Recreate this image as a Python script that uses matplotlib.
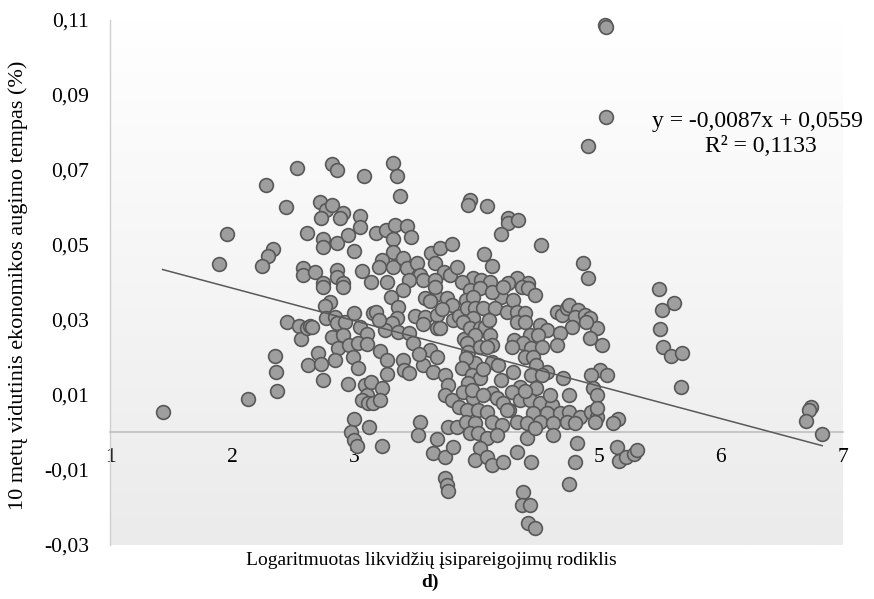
import numpy as np
import matplotlib
matplotlib.use("Agg")
import matplotlib.pyplot as plt
from matplotlib.colors import LinearSegmentedColormap

plt.rcParams["font.family"] = ["Liberation Serif", "DejaVu Serif"]

# sparse points on the left side
x_left = [1.43, 1.89, 1.96, 2.13, 2.28, 2.44, 2.53, 2.33, 2.29, 2.24, 2.35, 2.36,
          2.37, 2.45, 2.55, 2.56]
y_left = [0.0055, 0.045, 0.053, 0.009, 0.066, 0.060, 0.0705, 0.049, 0.047, 0.0445,
          0.0205, 0.016, 0.011, 0.0295, 0.0285, 0.025]

# upper part of the main cloud
x_upper = [2.82, 2.86, 3.08, 3.32, 3.35, 3.37, 2.72, 2.77, 2.82, 2.91, 2.88, 2.73,
           3.05, 3.05, 2.61, 2.74, 2.74, 2.86, 2.95, 3.00, 3.18, 3.26, 3.33, 3.43,
           3.46, 3.32, 3.32, 3.23, 3.20, 3.32, 3.40, 3.43, 3.51, 3.54, 3.63, 3.70,
           3.80, 3.66, 3.73, 3.78, 2.58, 2.58, 2.68, 2.86, 2.86, 3.06, 3.14, 3.27,
           3.45, 3.56, 3.66, 2.74, 2.91,
           4.91, 3.95, 3.93, 4.09, 4.26, 4.26, 4.34, 4.20, 4.53, 4.06, 4.13, 4.87,
           4.91, 3.97, 4.04, 4.11, 4.33, 4.42, 4.26, 3.84, 3.88, 3.30, 3.40, 4.20]
y_upper = [0.0716, 0.0700, 0.0684, 0.0719, 0.0684, 0.0631, 0.0615, 0.0593, 0.0607,
           0.0585, 0.0572, 0.0572, 0.0577, 0.0548, 0.0532, 0.0516, 0.0495, 0.0505,
           0.0527, 0.0484, 0.0532, 0.0540, 0.0553, 0.0551, 0.0521, 0.0516, 0.0481,
           0.0460, 0.0441, 0.0441, 0.0465, 0.0439, 0.0452, 0.0420, 0.0479, 0.0492,
           0.0503, 0.0452, 0.0428, 0.0420, 0.0439, 0.0420, 0.0428, 0.0433, 0.0415,
           0.0431, 0.0401, 0.0401, 0.0407, 0.0407, 0.0407, 0.0399, 0.0399,
           0.0764, 0.0620, 0.0607, 0.0604, 0.0572, 0.0559, 0.0567, 0.0529, 0.0500,
           0.0476, 0.0444, 0.0452, 0.0412, 0.0412, 0.0407, 0.0401, 0.0412, 0.0399,
           0.0399, 0.0440, 0.0400, 0.0360, 0.0380, 0.0360]

# middle band, x between 2.6 and 3.9
x_mid = [2.74, 2.91, 2.80, 2.76, 2.77, 2.84, 2.86, 2.92, 3.00, 3.05, 3.10, 3.15,
         3.18, 3.36, 3.35, 3.31, 3.25, 3.36, 3.45, 3.50, 3.58, 3.56, 3.68, 3.66,
         3.58, 3.66, 3.76, 3.80, 3.68, 3.70, 3.81, 2.61, 2.64, 2.65, 2.82, 2.91,
         2.87, 2.96, 3.03, 3.10, 2.70, 2.62, 2.73, 2.84, 2.99, 3.03, 2.74, 3.21,
         3.27, 3.27, 3.40, 3.41, 3.45, 3.48, 3.62, 3.68, 3.56, 3.64, 3.09, 3.14,
         3.23, 3.10, 3.06, 3.11, 3.15, 3.21, 3.74, 3.77, 3.74, 3.80, 3.86, 3.72,
         3.62, 3.20, 2.95, 3.53, 3.90]
y_mid = [0.0388, 0.0388, 0.0348, 0.0337, 0.0305, 0.0308, 0.0292, 0.0295, 0.0319,
         0.0281, 0.0263, 0.0319, 0.0321, 0.0335, 0.0305, 0.0292, 0.0273, 0.0268,
         0.0265, 0.0311, 0.0308, 0.0289, 0.0313, 0.0367, 0.0359, 0.0388, 0.0359,
         0.0340, 0.0279, 0.0279, 0.0300, 0.0279, 0.0284, 0.0281, 0.0255, 0.0260,
         0.0225, 0.0233, 0.0239, 0.0236, 0.0212, 0.0180, 0.0183, 0.0193, 0.0201,
         0.0172, 0.0140, 0.0217, 0.0193, 0.0156, 0.0193, 0.0167, 0.0159, 0.0239,
         0.0220, 0.0201, 0.0180, 0.0161, 0.0127, 0.0135, 0.0119, 0.0100, 0.0087,
         0.0079, 0.0079, 0.0087, 0.0153, 0.0127, 0.0100, 0.0087, 0.0310, 0.0330,
         0.0350, 0.0300, 0.0130, 0.0210, 0.0250]

# middle band, x between 3.85 and 5.1
x_east = [3.95, 4.03, 4.13, 4.22, 4.37, 4.42, 4.48, 3.91, 3.97, 3.92, 3.99, 4.05,
          4.15, 4.25, 4.30, 4.33, 4.40, 4.33, 4.40, 3.97, 3.89, 4.66, 4.70, 4.74,
          4.76, 4.83, 4.81, 4.89, 4.93, 4.99, 4.90, 4.78, 4.52, 4.58, 4.68, 3.95,
          4.03, 4.07, 3.99, 4.11, 4.13, 4.31, 4.44, 4.50, 4.38, 4.29, 4.45, 4.54,
          4.66, 3.92, 3.93, 4.03, 4.09, 4.93, 5.03, 4.40, 4.46, 4.13, 4.18, 3.99,
          3.91, 3.88, 4.49, 4.58, 4.45, 4.54, 4.71, 5.01, 4.94, 5.07, 3.96, 4.03,
          3.93, 4.95, 4.99, 4.76, 4.49, 4.36, 4.29, 3.89, 3.97, 3.96, 4.13, 4.17,
          4.22, 4.36, 4.44, 4.52, 4.62, 3.86, 3.92, 4.01, 4.09, 4.27, 4.46, 4.58,
          4.68, 4.76, 4.85, 4.94, 4.99, 4.99, 4.10, 4.05, 4.20, 4.30, 4.05, 4.40,
          4.60, 4.25]
y_east = [0.0380, 0.0385, 0.0375, 0.0388, 0.0388, 0.0385, 0.0367, 0.0353, 0.0361,
          0.0332, 0.0332, 0.0332, 0.0332, 0.0321, 0.0353, 0.0321, 0.0319, 0.0295,
          0.0295, 0.0305, 0.0295, 0.0321, 0.0313, 0.0332, 0.0340, 0.0327, 0.0308,
          0.0313, 0.0305, 0.0279, 0.0295, 0.0281, 0.0287, 0.0273, 0.0265, 0.0279,
          0.0279, 0.0281, 0.0260, 0.0260, 0.0233, 0.0247, 0.0260, 0.0260, 0.0239,
          0.0228, 0.0225, 0.0228, 0.0233, 0.0239, 0.0215, 0.0228, 0.0228, 0.0252,
          0.0233, 0.0201, 0.0201, 0.0188, 0.0180, 0.0185, 0.0199, 0.0172, 0.0180,
          0.0161, 0.0153, 0.0153, 0.0145, 0.0167, 0.0153, 0.0153, 0.0153, 0.0145,
          0.0132, 0.0119, 0.0100, 0.0100, 0.0119, 0.0121, 0.0108, 0.0108, 0.0092,
          0.0113, 0.0105, 0.0092, 0.0079, 0.0087, 0.0087, 0.0079, 0.0073, 0.0068,
          0.0060, 0.0060, 0.0055, 0.0060, 0.0052, 0.0052, 0.0052, 0.0055, 0.0041,
          0.0055, 0.0041, 0.0065, 0.0300, 0.0170, 0.0140, 0.0160, 0.0100, 0.0110,
          0.0100, 0.0060]

# points close to and below the zero line
x_low = [3.00, 2.97, 3.00, 3.02, 3.12, 3.23, 3.54, 3.52, 3.68, 3.64, 3.74, 3.77,
         3.84, 3.81, 3.74, 3.76, 3.77, 3.91, 3.99, 4.13, 4.21, 4.33, 4.41, 4.52,
         4.63, 4.74, 4.81, 5.16, 3.95, 4.01, 4.09, 4.17, 4.03, 3.99, 4.09, 4.13,
         4.22, 4.33, 4.41, 4.48, 4.63, 4.45, 4.82, 4.81, 4.76, 4.38, 4.37, 4.44,
         4.42, 4.48, 4.97, 5.12, 5.15, 5.17, 5.22, 5.29, 5.31]
y_low = [0.0036, 0.0002, -0.0020, -0.0036, 0.0015, -0.0036, 0.0028, -0.0007,
         -0.0017, -0.0055, -0.0065, 0.0015, 0.0015, -0.0039, -0.0121, -0.0140,
         -0.0156, 0.0028, 0.0025, 0.0028, 0.0020, 0.0028, 0.0025, 0.0028, 0.0025,
         0.0028, 0.0025, 0.0035, -0.0001, -0.0001, -0.0015, -0.0007, -0.0041,
         -0.0073, -0.0065, -0.0087, -0.0079, -0.0052, -0.0015, 0.0012, -0.0007,
         -0.0079, -0.0028, -0.0079, -0.0137, -0.0159, -0.0193, -0.0193, -0.0241,
         -0.0255, 0.0028, 0.0025, -0.0039, -0.0075, -0.0066, -0.0058, -0.0048]

# right side and high outliers
x_right = [5.49, 5.62, 5.52, 5.50, 5.53, 5.59, 5.68, 5.67, 6.74, 6.72, 6.70, 6.83,
           5.05, 5.06, 5.06]
y_right = [0.0383, 0.0345, 0.0327, 0.0276, 0.0228, 0.0204, 0.0212, 0.0121, 0.0068,
           0.0060, 0.0031, -0.0004, 0.1086, 0.1081, 0.0841]

# linear trend shown in the label
slope, intercept = -0.0087, 0.0559
r2 = 0.1133

x_ticks = [1, 2, 3, 4, 5, 6, 7]
y_ticks = [-0.03, -0.01, 0.01, 0.03, 0.05, 0.07, 0.09, 0.11]

x_all = np.concatenate([x_left, x_upper, x_mid, x_east, x_low, x_right])
y_all = np.concatenate([y_left, y_upper, y_mid, y_east, y_low, y_right])

fig = plt.figure(figsize=(8.74, 5.99), dpi=100)
ax = fig.add_axes([0.1259, 0.0902, 0.8386, 0.8764])
ax.set_xlim(1, 7)
ax.set_ylim(-0.03, 0.11)

# soft vertical gradient behind the plot
grad = LinearSegmentedColormap.from_list("bg", ["#ebebeb", "#ffffff"])
ax.imshow(np.linspace(0, 1, 256).reshape(-1, 1), cmap=grad, aspect="auto",
          extent=[1, 7, -0.03, 0.11], origin="lower", zorder=0)

ax.scatter(x_all, y_all, s=98, facecolor="#9e9e9e", edgecolor="#585858",
           linewidth=1.2, zorder=3, clip_on=False)

xt = np.array([x_all.min(), x_all.max()])
ax.plot(xt, slope * xt + intercept, color="#595959", linewidth=1.1, zorder=4)

eq = f"y = {slope:.4f}x + {intercept:.4f}".replace(".", ",")
ax.text(5.44, 0.0830, eq, fontsize=17, ha="left", va="center")
ax.text(6.33, 0.0763, f"R² = {r2:.4f}".replace(".", ","), fontsize=17,
        ha="center", va="center")

for side in ["top", "right"]:
    ax.spines[side].set_visible(False)
ax.spines["bottom"].set_position(("data", 0))
ax.spines["bottom"].set_color("#bfbfbf")
ax.spines["bottom"].set_linewidth(1.2)
ax.spines["left"].set_color("#d0d0d0")
ax.spines["left"].set_linewidth(1.0)

ax.set_xticks(x_ticks)
ax.set_xticklabels([str(t) for t in x_ticks])
ax.set_yticks(y_ticks)
ax.set_yticklabels([f"{t:.2f}".replace(".", ",") for t in y_ticks])
ax.tick_params(axis="both", length=0, labelsize=15.5)
ax.tick_params(axis="x", pad=11)
ax.tick_params(axis="y", pad=15)

fig.text(0.021, 0.524, "10 metų vidutinis ekonomikos augimo tempas (%)",
         rotation=90, ha="center", va="center", fontsize=16)
fig.text(0.494, 0.065, "Logaritmuotas likvidžių įsipareigojimų rodiklis",
         ha="center", va="center", fontsize=14)
fig.text(0.492, 0.028, "d)", ha="center", va="center", fontsize=14,
         fontweight="bold")

fig.savefig("out.png", dpi=100)
